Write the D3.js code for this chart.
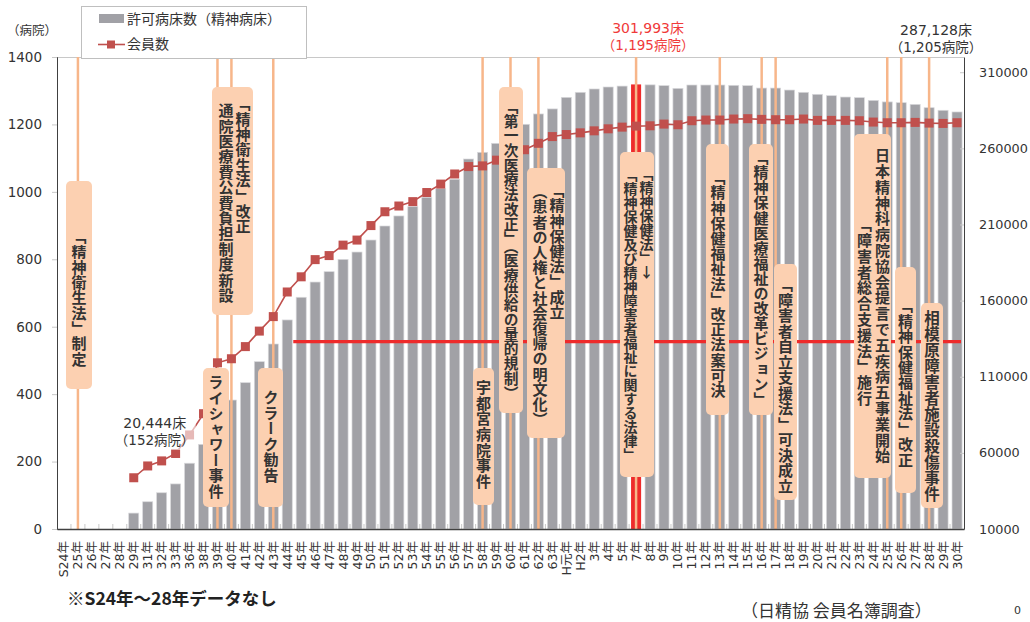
<!DOCTYPE html>
<html>
<head>
<meta charset="utf-8">
<script src="https://cdn.jsdelivr.net/npm/d3@7"></script>
<style>
body { margin: 0; background: #fff; }
svg { display: block; }
text { font-family: "DejaVu Sans", "Noto Sans CJK JP", sans-serif; }
.jp { font-family: "Noto Sans CJK JP", sans-serif; }
.vt { writing-mode: vertical-rl; text-orientation: upright; font-family: "Noto Sans CJK JP", sans-serif; font-weight: 700; }
</style>
</head>
<body>
<svg width="1030" height="622"></svg>
<script>
const width = 1030,
    height = 622,
    plot = ({ top: 57, right: 964, bottom: 529, left: 57 });

// x categories (S = 昭和, H = 平成)
const categories = ["S24年","25年","26年","27年","28年","29年","31年","32年","33年","36年","38年","39年",
  "40年","41年","42年","43年","44年","45年","46年","47年","48年","49年","50年","51年","52年","53年",
  "54年","55年","56年","57年","58年","59年","60年","61年","62年","63年",
  "H元年","H2年","3年","4年","5年","7年",
  "8年","9年","10年","11年","12年","13年","14年","15年","16年","17年","18年","19年","20年","21年",
  "22年","23年","24年","25年","26年","27年","28年","29年","30年"];

// 許可病床数（精神病床） - right axis
const beds = [null, null, null, null, null,
  20444, 27900, 33800, 39600, 53200, 65600, 80000,
  94700, 106100, 119900, 131500, 147300, 162200, 172200, 179000, 187100, 191900, 199800, 209000,
  215600, 221700, 227800, 233500, 239700, 253000, 257400, 263300, 268500, 275800, 282600, 285900,
  293500, 296800, 299000, 300300, 300900, 301993,
  301700, 301200, 299400, 301600, 301600, 301600, 301400, 301200, 299600, 299600, 298300, 296800,
  295500, 294600, 293700, 293300, 291500, 290500, 290000, 288900, 286700, 285000, 283900];

// 会員数 (病院) - left axis
const members = [null, null, null, null, null,
  152, 187, 202, 224, 279, 342, 493,
  505, 541, 587, 630, 703, 748, 799, 811, 842, 857, 900, 941, 958, 971, 998, 1023, 1053, 1075,
  1077, 1094, 1110, 1125, 1144, 1164,
  1170, 1175, 1181, 1187, 1192, 1195,
  1196, 1201, 1199, 1211, 1213, 1213, 1216, 1217, 1215, 1214, 1214, 1216, 1212, 1212, 1212, 1211,
  1207, 1205, 1205, 1206, 1204, 1203, 1205];

const leftTicks = [0, 200, 400, 600, 800, 1000, 1200, 1400];
const rightTicks = [10000, 60000, 110000, 160000, 210000, 260000, 310000];

const peakIndex = 41;      // H7
const refLineValue = 556;  // red horizontal line (left axis)
const refLineFrom = 16;    // from S44

// events: category index and label columns (right to left)
const eventIdx = [1, 12, 11, 15, 30, 32, 34, 41, 47, 50, 51, 59, 60, 62];
const eventText = [
  ["「精神衛生法」制定"],
  ["「精神衛生法」改正", "通院医療費公費負担制度新設"],
  ["ライシャワー事件"],
  ["クラーク勧告"],
  ["宇都宮病院事件"],
  ["「第一次医療法改正」（医療供給の量的規制）"],
  ["「精神保健法」成立", "（患者の人権と社会復帰の明文化）"],
  ["「精神保健法」↓", "「精神保健及び精神障害者福祉に関する法律」"],
  ["「精神保健福祉法」改正法案可決"],
  ["「精神保健医療福祉の改革ビジョン」"],
  ["「障害者自立支援法」可決成立"],
  ["日本精神科病院協会提言で五疾病五事業開始", "「障害者総合支援法」施行"],
  ["「精神保健福祉法」改正"],
  ["相模原障害者施設殺傷事件"]
];

// annotation box layout (pixels)
const boxLayout = [
  { x0: 66, y0: 181, x1: 92, y1: 389, cols: [[79, 229]], fs: 15, ls: 0.3 },
  { x0: 212, y0: 87, x1: 253, y1: 315, cols: [[243, 96], [226, 103]], fs: 15, ls: 0.4 },
  { x0: 203, y0: 368, x1: 229, y1: 507, cols: [[216, 375]], fs: 15, ls: 0.5 },
  { x0: 258, y0: 368, x1: 283, y1: 507, cols: [[271, 390]], fs: 15, ls: 0.5 },
  { x0: 473, y0: 368, x1: 494, y1: 505, cols: [[483.5, 380]], fs: 15, ls: 0.6 },
  { x0: 499, y0: 87, x1: 523, y1: 413, cols: [[511, 99]], fs: 14.7, ls: 0 },
  { x0: 527, y0: 168, x1: 565, y1: 438, cols: [[557, 183], [540, 184]], fs: 15, ls: 0.2 },
  { x0: 620, y0: 152, x1: 654, y1: 477, cols: [[646.5, 167], [630.5, 168]], fs: 14, ls: 0 },
  { x0: 706, y0: 144, x1: 729, y1: 415, cols: [[718, 170]], fs: 15, ls: 0.2 },
  { x0: 749, y0: 144, x1: 773, y1: 415, cols: [[761, 150]], fs: 15, ls: 0.1 },
  { x0: 774, y0: 264, x1: 797, y1: 500, cols: [[785.5, 277]], fs: 15, ls: 0.5 },
  { x0: 854, y0: 134, x1: 891, y1: 478, cols: [[882.5, 148], [864.5, 217]], fs: 15, ls: 0.8 },
  { x0: 895, y0: 267, x1: 916, y1: 493, cols: [[905.5, 298]], fs: 15, ls: 0.45 },
  { x0: 921, y0: 303, x1: 943, y1: 508, cols: [[932, 310]], fs: 15.5, ls: 0.5 }
];

const barColor = "#a1a1a6",
    lineColor = "#c0504d",
    eventColor = "#f7b68a",
    boxColor = "#fcd0b1",
    red = "#ee2b2b",
    textColor = "#333";

const svg = d3.select("svg");

const x = d3.scaleBand()
  .domain(d3.range(categories.length))
  .range([plot.left, plot.right])
  .paddingInner(0.28)
  .paddingOuter(0.14);

const yL = d3.scaleLinear().domain([0, 1400]).range([plot.bottom, plot.top]);
const yR = d3.scaleLinear().domain([10000, 320000]).range([plot.bottom, plot.top]);
const cx = i => x(i) + x.bandwidth() / 2;

// top border
svg.append("line")
  .attr("x1", plot.left).attr("x2", plot.right)
  .attr("y1", plot.top + 0.5).attr("y2", plot.top + 0.5)
  .attr("stroke", "#c8c8c8");

// category ticks at band boundaries
svg.append("g")
  .selectAll("line")
  .data(d3.range(1, categories.length))
  .join("line")
  .attr("x1", i => plot.left + i * x.step())
  .attr("x2", i => plot.left + i * x.step())
  .attr("y1", plot.bottom - 5)
  .attr("y2", plot.bottom)
  .attr("stroke", "#c8c8c8");

// bars
svg.append("g")
  .selectAll("rect")
  .data(beds.map((v, i) => ({ v, i })).filter(d => d.v != null))
  .join("rect")
  .attr("x", d => x(d.i))
  .attr("width", x.bandwidth())
  .attr("y", d => yR(d.v))
  .attr("height", d => yR(10000) - yR(d.v))
  .attr("fill", d => d.i === peakIndex ? red : barColor)
  .attr("stroke", d => d.i === peakIndex ? "none" : "#d9d9dc")
  .attr("stroke-width", 0.7);

// event lines
svg.append("g")
  .selectAll("line")
  .data(eventIdx)
  .join("line")
  .attr("x1", cx).attr("x2", cx)
  .attr("y1", plot.top).attr("y2", plot.bottom)
  .attr("stroke", eventColor)
  .attr("stroke-width", 2.5);

// red horizontal line
svg.append("line")
  .attr("x1", x(refLineFrom) + x.bandwidth() + 1)
  .attr("x2", plot.right - 3)
  .attr("y1", yL(refLineValue)).attr("y2", yL(refLineValue))
  .attr("stroke", red)
  .attr("stroke-width", 3.2);

// member line
const memberPts = members.map((v, i) => ({ v, i })).filter(d => d.v != null);
svg.append("path")
  .datum(memberPts)
  .attr("fill", "none")
  .attr("stroke", lineColor)
  .attr("stroke-width", 1.6)
  .attr("d", d3.line().x(d => cx(d.i)).y(d => yL(d.v)));

svg.append("g")
  .selectAll("rect")
  .data(memberPts)
  .join("rect")
  .attr("x", d => cx(d.i) - 4.5)
  .attr("y", d => yL(d.v) - 4.5)
  .attr("width", 9)
  .attr("height", 9)
  .attr("fill", lineColor);

// axes
const leftAxis = svg.append("g")
  .attr("transform", `translate(${plot.left},0)`)
  .call(d3.axisLeft(yL).tickValues(leftTicks).tickSize(5).tickPadding(10).tickFormat(d3.format("d")));
leftAxis.select(".domain").attr("stroke", "#404040");
leftAxis.selectAll(".tick line").attr("stroke", "#c8c8c8");
leftAxis.selectAll("text").style("font-size", "13.5px").style("fill", textColor);

const rightAxis = svg.append("g")
  .attr("transform", `translate(${plot.right},0)`)
  .call(d3.axisRight(yR).tickValues(rightTicks).tickSizeInner(-4).tickSizeOuter(0).tickPadding(15).tickFormat(d3.format("d")));
rightAxis.select(".domain").attr("stroke", "#404040");
rightAxis.selectAll(".tick line").attr("stroke", "#c8c8c8");
rightAxis.selectAll("text").style("font-size", "12.8px").style("fill", textColor);

const bottomAxis = svg.append("g")
  .attr("transform", `translate(0,${plot.bottom})`)
  .call(d3.axisBottom(x).tickSize(0).tickSizeOuter(0).tickFormat(i => categories[i]));
bottomAxis.select(".domain").attr("stroke", "#404040").attr("stroke-width", 1.3);
bottomAxis.selectAll("text")
  .attr("transform", "rotate(-90)")
  .attr("x", -12)
  .attr("y", 0)
  .attr("dy", "0.36em")
  .attr("text-anchor", "end")
  .style("font-size", "12.5px")
  .style("fill", textColor);

// faded background behind the first value label
svg.append("rect")
  .attr("x", cx(5) - 18).attr("y", 410)
  .attr("width", 80).attr("height", 40)
  .attr("fill", "#fff").attr("opacity", 0.6);

// event boxes
const boxes = svg.append("g")
  .selectAll("g")
  .data(boxLayout)
  .join("g");

boxes.append("rect")
  .attr("x", d => d.x0).attr("y", d => d.y0)
  .attr("width", d => d.x1 - d.x0).attr("height", d => d.y1 - d.y0)
  .attr("rx", 5)
  .attr("fill", boxColor);

boxes.each(function (d, k) {
  d3.select(this).selectAll("text")
    .data(d.cols.map((c, j) => ({ c, t: eventText[k][j] })))
    .join("text")
    .attr("class", "vt")
    .attr("x", e => e.c[0])
    .attr("y", e => e.c[1])
    .style("font-size", d.fs + "px")
    .style("letter-spacing", d.ls + "px")
    .style("fill", textColor)
    .text(e => e.t);
});

// value labels
function valueLabel(xc, y1, t1, t2, color, fs) {
  svg.append("text").attr("x", xc).attr("y", y1).attr("text-anchor", "middle")
    .style("font-size", fs + "px").style("fill", color).text(t1);
  svg.append("text").attr("x", xc).attr("y", y1 + 17).attr("text-anchor", "middle")
    .style("font-size", fs - 0.5 + "px").style("fill", color).text(t2);
}
valueLabel(cx(peakIndex) + 12, 33, d3.format(",")(beds[peakIndex]) + "床",
  "（" + d3.format(",")(members[peakIndex]) + "病院）", "#f03a3a", 14);
valueLabel(cx(64) - 21, 35, "287,128床", "（1,205病院）", textColor, 14);
valueLabel(cx(5) + 21, 428, d3.format(",")(beds[5]) + "床",
  "（" + members[5] + "病院）", textColor, 14);

// axis title
svg.append("text").attr("class", "jp").attr("x", 7).attr("y", 35)
  .style("font-size", "12.5px").style("fill", textColor).text("（病院）");

// legend
const legend = svg.append("g");
legend.append("rect")
  .attr("x", 81.5).attr("y", 6.5).attr("width", 225).attr("height", 52)
  .attr("fill", "#fff").attr("stroke", "#bfbfbf");
legend.append("rect")
  .attr("x", 99).attr("y", 14).attr("width", 25).attr("height", 9)
  .attr("fill", barColor);
legend.append("text").attr("class", "jp").attr("x", 127).attr("y", 19).attr("dy", "0.36em")
  .style("font-size", "14px").style("fill", textColor).text("許可病床数（精神病床）");
legend.append("line")
  .attr("x1", 98).attr("x2", 125).attr("y1", 44.5).attr("y2", 44.5)
  .attr("stroke", lineColor).attr("stroke-width", 1.6);
legend.append("rect")
  .attr("x", 107).attr("y", 40.5).attr("width", 8).attr("height", 8)
  .attr("fill", lineColor);
legend.append("text").attr("class", "jp").attr("x", 127).attr("y", 44).attr("dy", "0.36em")
  .style("font-size", "14px").style("fill", textColor).text("会員数");

// notes
svg.append("text").attr("class", "jp").attr("x", 67).attr("y", 605)
  .style("font-size", "17.5px").style("font-weight", 700).style("fill", "#222")
  .text("※S24年～28年データなし");
svg.append("text").attr("class", "jp").attr("x", 741).attr("y", 617)
  .style("font-size", "17px").style("fill", textColor).text("（日精協 会員名簿調査）");
svg.append("text").attr("x", 1014).attr("y", 614)
  .style("font-size", "11px").style("fill", textColor).text("0");
</script>
</body>
</html>
